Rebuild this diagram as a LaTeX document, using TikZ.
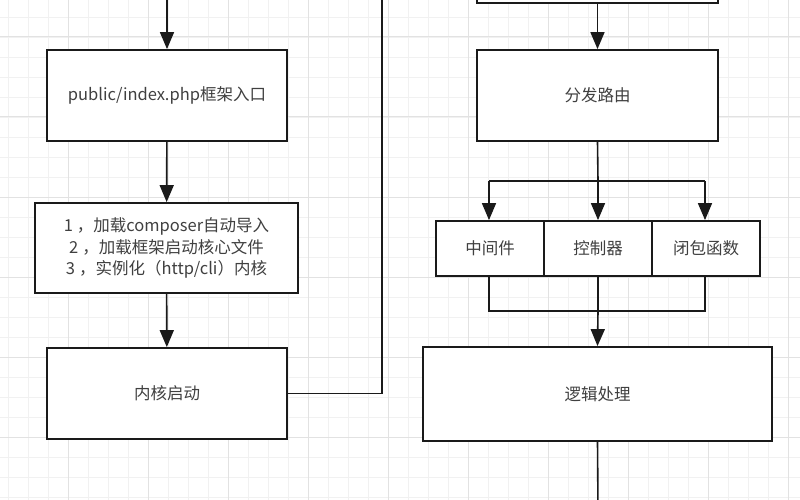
\documentclass[tikz,border=0pt]{standalone}
\usepackage{fontspec}
\setmainfont{Noto Sans CJK SC}
\usetikzlibrary{arrows.meta}
\definecolor{txt}{HTML}{404040}
\definecolor{edge}{HTML}{1A1A1A}
\definecolor{gminor}{HTML}{F1F1F1}
\definecolor{gmajor}{HTML}{E2E2E2}
\newcommand{\tcomma}{\hspace{4pt}，}
\begin{document}
\begin{tikzpicture}[x=1pt,y=-1pt,
  box/.style={draw=edge,line width=1.8pt,fill=white,rectangle,inner sep=0pt,
    text=txt,font=\fontsize{16.5}{21.5}\selectfont,align=center},
  conn/.style={draw=edge,line width=1.6pt},
  arr/.style={conn,-{Triangle[length=17pt,width=14pt]}}]
\clip (0,0) rectangle (800,500);
\fill[white] (0,0) rectangle (800,500);
% grid
\foreach \x in {8,28,...,800} \draw[gminor,line width=0.8pt] (\x,0) -- (\x,500);
\foreach \y in {17,37,...,500} \draw[gminor,line width=0.8pt] (0,\y) -- (800,\y);
\foreach \x in {68,148,...,800} \draw[gmajor,line width=1pt] (\x,0) -- (\x,500);
\foreach \y in {37,117,...,500} \draw[gmajor,line width=1pt] (0,\y) -- (800,\y);
% left column
\coordinate (intop) at (167,-10);
\node[box,minimum width=240,minimum height=91] (b1) at (167,95.5) {public/index.php框架入口};
\node[box,minimum width=263,minimum height=90] (b2) at (166.5,248) {1\tcomma 加载composer自动导入\\2\tcomma 加载框架启动核心文件\\3\tcomma 实例化（http/cli）内核};
\node[box,minimum width=240,minimum height=91] (b3) at (167,393.5) {内核启动};
\draw[arr] (intop) -- (b1.north);
\draw[arr] (b1) -- (b2);
\draw[arr] (b2) -- (b3);
\coordinate (upend) at (382,-10);
\draw[conn] (b3.east) -| (upend);
% right column
\node[box,minimum width=241,minimum height=91] (top) at (597.5,-42.5) {};
\node[box,minimum width=241,minimum height=91] (route) at (597.5,95.5) {分发路由};
\draw[arr] (top) -- (route);
\node[box,minimum width=108,minimum height=55] (mid) at (490,248.5) {中间件};
\node[box,minimum width=108,minimum height=55] (ctrl) at (598,248.5) {控制器};
\node[box,minimum width=108,minimum height=55] (clos) at (706,248.5) {闭包函数};
\node[box,minimum width=349,minimum height=94] (logic) at (597.5,394) {逻辑处理};
\coordinate (sp) at (598,181);
\coordinate (spl) at (489,181);
\coordinate (spr) at (705,181);
\draw[conn] (route.south) -- (sp);
\draw[conn] (spl) -- (spr);
\draw[arr] (spl) -- (spl |- mid.north);
\draw[arr] (sp) -- (ctrl.north);
\draw[arr] (spr) -- (spr |- clos.north);
\coordinate (ml) at (489,311);
\coordinate (mc) at (598,311);
\coordinate (mr) at (705,311);
\draw[conn] (ml |- mid.south) -- (ml) -- (mr) -- (mr |- clos.south);
\draw[conn] (ctrl.south) -- (mc);
\draw[arr] (mc) -- (logic.north);
\coordinate (outbot) at (598,510);
\draw[conn] (logic.south) -- (outbot);
\end{tikzpicture}
\end{document}
